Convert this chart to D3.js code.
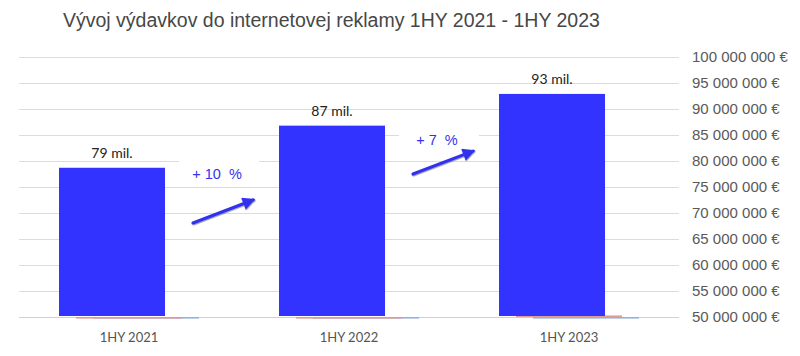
<!DOCTYPE html>
<html><head><meta charset="utf-8">
<script src="https://cdn.jsdelivr.net/npm/d3@7"></script>
<style>
html,body{margin:0;padding:0;background:#fff;}
svg{display:block;}
</style></head>
<body>
<svg id="chart" width="800" height="356"></svg>
<script>
// ---- data ----
const title = "Vývoj výdavkov do internetovej reklamy 1HY 2021 - 1HY 2023";
const categories = ["1HY 2021", "1HY 2022", "1HY 2023"];
const spending = [78700000, 86800000, 92900000];
const spendingLabels = ["79 mil.", "87 mil.", "93 mil."];
const seriesRed = [50000000, 50000000, 50300000];
const seriesLightBlue = [50000000, 50000000, 50000000];
const growthLabels = ["+ 10  %", "+ 7  %"];
const growthArrowFrom = [68100000, 77500000];
const growthArrowTo = [72500000, 81900000];
const growthTextAt = [77600000, 84000000];
const yTicks = [50000000, 55000000, 60000000, 65000000, 70000000, 75000000, 80000000, 85000000, 90000000, 95000000, 100000000];

// ---- chart ----
const svg = d3.select("#chart");
const plotLeft = 19, plotRight = 679, plotTop = 57, plotBottom = 317;

const x = d3.scaleBand().domain(categories).range([plotLeft, plotRight]).padding(0);
const y = d3.scaleLinear().domain([50000000, 100000000]).range([plotBottom, plotTop]);

const barW = x.bandwidth() * 106 / 220;
const seriesOffset = d3.scalePoint().domain(["main", "red", "blue"]).range([x.bandwidth() * 40 / 220, x.bandwidth() * 74 / 220]);

const loc = d3.formatLocale({decimal: ",", thousands: " ", grouping: [3], currency: ["", " €"]});
const fmt = v => loc.format(",")(v) + " €";

// gridlines
svg.append("g").selectAll("line").data(yTicks).join("line")
  .attr("x1", plotLeft).attr("x2", plotRight)
  .attr("y1", d => Math.round(y(d)) + 0.5).attr("y2", d => Math.round(y(d)) + 0.5)
  .attr("stroke", d => d === 50000000 ? "#d0d0d0" : "#dcdcdc").attr("stroke-width", 1.2);

// y axis labels (right)
svg.append("g").selectAll("text").data(yTicks).join("text")
  .attr("x", 692).attr("y", d => y(d)).attr("dy", "0.35em")
  .attr("font-family", "Liberation Sans, Arial, sans-serif").attr("font-size", 15)
  .attr("fill", "#595959").text(d => fmt(d));

// minor series (tiny bars at baseline)
svg.append("g").selectAll("rect").data(seriesLightBlue).join("rect")
  .attr("x", (d, i) => x(categories[i]) + seriesOffset("blue"))
  .attr("y", d => y(d)).attr("width", barW).attr("height", 1.6)
  .attr("fill", "#93b1dc");
svg.append("g").selectAll("rect").data(seriesRed).join("rect")
  .attr("x", (d, i) => x(categories[i]) + seriesOffset("red"))
  .attr("y", d => y(d)).attr("width", barW).attr("height", 1.6)
  .attr("fill", "#e39a92");

// main bars
svg.append("g").selectAll("rect").data(spending).join("rect")
  .attr("x", (d, i) => x(categories[i]) + seriesOffset("main"))
  .attr("y", d => y(d)).attr("width", barW).attr("height", d => y(50000000) - 1 - y(d))
  .attr("fill", "#3333ff");

// data labels
svg.append("g").selectAll("text").data(spending).join("text")
  .attr("x", (d, i) => x(categories[i]) + seriesOffset("main") + barW / 2)
  .attr("y", d => y(d) - 10)
  .attr("text-anchor", "middle")
  .attr("font-family", "Lato, sans-serif").attr("font-size", 14)
  .attr("fill", "#222").text((d, i) => spendingLabels[i]);

// category labels
svg.append("g").selectAll("text").data(categories).join("text")
  .attr("x", d => x(d) + x.bandwidth() / 2).attr("y", 342)
  .attr("text-anchor", "middle")
  .attr("font-family", "Lato, sans-serif").attr("font-size", 13)
  .attr("fill", "#555").text(d => d);

// growth annotations
const defs = svg.append("defs");
defs.append("marker").attr("id", "ah").attr("viewBox", "0 0 10 10")
  .attr("refX", 8).attr("refY", 5).attr("markerWidth", 4.6).attr("markerHeight", 4)
  .attr("markerUnits", "strokeWidth").attr("orient", "auto")
  .append("path").attr("d", "M0,0 L10,5 L0,10 z").attr("fill", "#3333ee");
const sh = defs.append("filter").attr("id", "sh").attr("x", "-20%").attr("y", "-50%").attr("width", "140%").attr("height", "200%");
sh.append("feDropShadow").attr("dx", 0.6).attr("dy", 1).attr("stdDeviation", 0.7).attr("flood-color", "#000").attr("flood-opacity", 0.35);

growthLabels.forEach((lab, i) => {
  const gapMid = (x(categories[i]) + seriesOffset("main") + barW + x(categories[i + 1]) + seriesOffset("main")) / 2;
  const g = svg.append("g");
  const tx = gapMid - 5;
  g.append("rect").attr("x", tx - 38).attr("y", y(growthTextAt[i]) - 14).attr("width", 80).attr("height", 26).attr("fill", "#fff");
  g.append("text").attr("x", tx).attr("y", y(growthTextAt[i])).attr("dy", "0.35em")
    .attr("text-anchor", "middle").attr("font-family", "Liberation Sans, Arial, sans-serif")
    .attr("font-size", 14.5).attr("fill", "#3333ee")
    .style("white-space", "pre").text(lab);
  g.append("line")
    .attr("x1", gapMid - 29).attr("y1", y(growthArrowFrom[i]))
    .attr("x2", gapMid + 31).attr("y2", y(growthArrowTo[i]))
    .attr("stroke", "#3333ee").attr("stroke-width", 3.2).attr("stroke-linecap", "round")
    .attr("marker-end", "url(#ah)").attr("filter", "url(#sh)");
});

// title
svg.append("text").attr("x", 63).attr("y", 27)
  .attr("font-family", "Liberation Sans, Arial, sans-serif").attr("font-size", 19.5)
  .attr("fill", "#474747").text(title);
</script>
</body></html>
